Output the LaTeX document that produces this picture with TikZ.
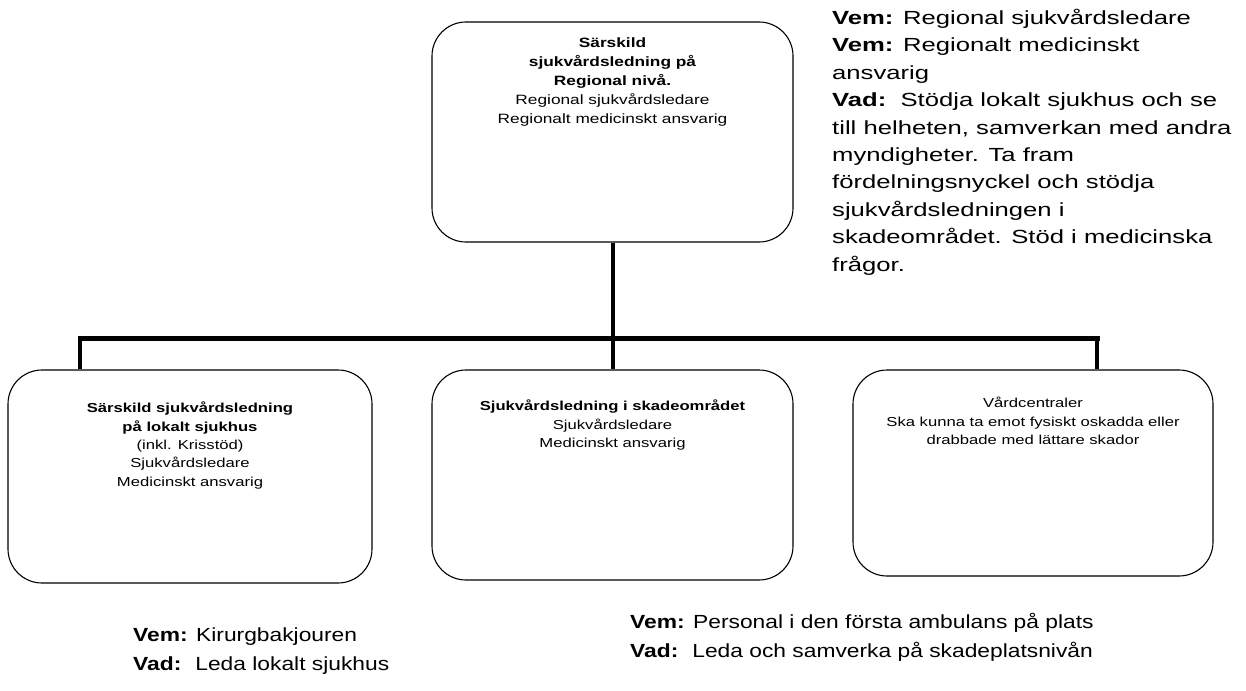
\documentclass[tikz,border=0pt]{standalone}
\usepackage{fontspec}
\setmainfont{Liberation Sans}
\newfontfamily\notefont{Liberation Sans}[FakeStretch=1.35]
\newfontfamily\bottomfont{Liberation Sans}[FakeStretch=1.2]
\newfontfamily\boxfont{Liberation Sans}[FakeStretch=1.28]
\begin{document}
\begin{tikzpicture}[x=1pt,y=-1pt,
  box/.style={draw,line width=1.1pt,rounded corners=34pt,inner sep=0pt},
  boxtext/.style={anchor=north,align=center,inner sep=0pt},
  note/.style={anchor=north west,align=left,inner sep=0pt},
  conn/.style={line width=4pt},
  bar/.style={line width=5pt}]
\useasboundingbox (0,0) rectangle (1246,690);
% boxes
\node[box,minimum width=361pt,minimum height=220pt] (top) at (612.5,132) {};
\node[box,minimum width=364pt,minimum height=213pt] (left) at (190,476.5) {};
\node[box,minimum width=361pt,minimum height=210pt] (mid) at (612.5,475) {};
\node[box,minimum width=360pt,minimum height=206pt] (right) at (1033,473) {};
% box texts
\node[boxtext,font=\boxfont\fontsize{13.5}{19}\selectfont] (toptxt) at (612.5,38)
 {\textbf{Särskild}\\\textbf{sjukvårdsledning på}\\\textbf{Regional nivå.}\\Regional sjukvårdsledare\\Regionalt medicinskt ansvarig};
\node[boxtext,font=\boxfont\fontsize{13}{18.3}\selectfont] (lefttxt) at (190,402)
 {\textbf{Särskild sjukvårdsledning}\\\textbf{på lokalt sjukhus}\\(inkl. Krisstöd)\\Sjukvårdsledare\\Medicinskt ansvarig};
\node[boxtext,font=\boxfont\fontsize{13}{18.3}\selectfont] (midtxt) at (612.5,400)
 {\textbf{Sjukvårdsledning i skadeområdet}\\Sjukvårdsledare\\Medicinskt ansvarig};
\node[boxtext,font=\boxfont\fontsize{13}{18.5}\selectfont] (righttxt) at (1033,397)
 {Vårdcentraler\\Ska kunna ta emot fysiskt oskadda eller\\drabbade med lättare skador};
% connectors
\coordinate (j) at (612.5,338);
\coordinate (jl) at (80,338);
\coordinate (jr) at (1097,338);
\draw[conn] (top.south) -- (j);
\draw[bar,line cap=rect] (jl) -- (jr);
\draw[conn] (jl) -- (jl |- left.north);
\draw[conn] (j) -- (mid.north);
\draw[conn] (jr) -- (jr |- right.north);
% notes
\node[note,font=\notefont\fontsize{19}{27.4}\selectfont] (n1) at (832,9)
 {\textbf{Vem:} Regional sjukvårdsledare\\\textbf{Vem:} Regionalt medicinskt\\ansvarig\\\textbf{Vad:}\ \ Stödja lokalt sjukhus och se\\till helheten, samverkan med andra\\myndigheter. Ta fram\\fördelningsnyckel och stödja\\sjukvårdsledningen i\\skadeområdet. Stöd i medicinska\\frågor.};
\node[note,font=\bottomfont\fontsize{19}{29}\selectfont] (n2) at (133,628)
 {\textbf{Vem:} Kirurgbakjouren\\\textbf{Vad:}\hspace{14pt}Leda lokalt sjukhus};
\node[note,font=\bottomfont\fontsize{19}{29}\selectfont] (n3) at (630,613)
 {\textbf{Vem:} Personal i den första ambulans på plats\\\textbf{Vad:}\hspace{14pt}Leda och samverka på skadeplatsnivån};
\end{tikzpicture}
\end{document}
